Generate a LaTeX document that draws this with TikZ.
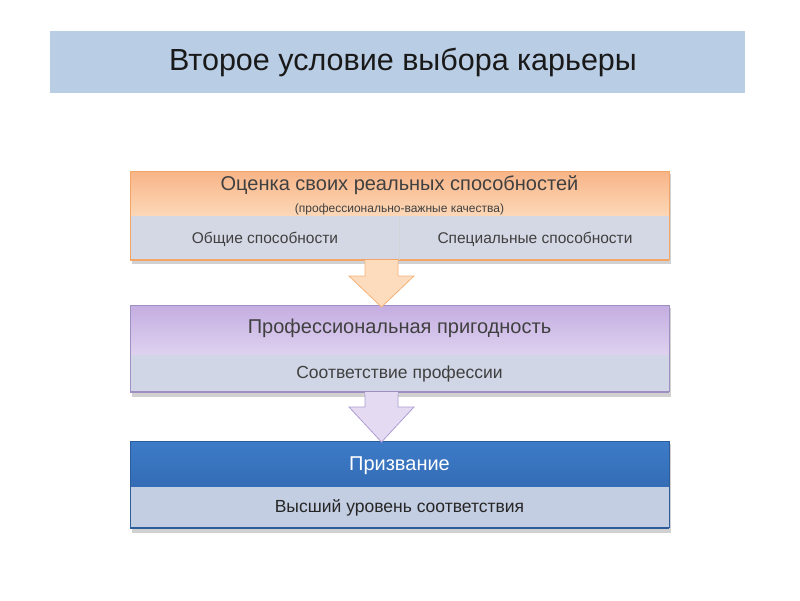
\documentclass[tikz,border=0pt]{standalone}
\usepackage{fontspec}
\setmainfont{Liberation Sans}
\usetikzlibrary{calc,shadows}
\definecolor{titlebg}{HTML}{B9CDE5}
\definecolor{orgtop}{HTML}{F8B487}
\definecolor{orgbot}{HTML}{FCD8B8}
\definecolor{orgline}{HTML}{F2A566}
\definecolor{grayA}{HTML}{D4D8E4}
\definecolor{arrA}{HTML}{FDDCBE}
\definecolor{arrAline}{HTML}{F4B27A}
\definecolor{purtop}{HTML}{C4ADE1}
\definecolor{purbot}{HTML}{DED2EF}
\definecolor{purline}{HTML}{9F8FC2}
\definecolor{grayB}{HTML}{D0D6E5}
\definecolor{arrB}{HTML}{E4DBF3}
\definecolor{arrBline}{HTML}{AE9DD3}
\definecolor{blutop}{HTML}{3D7BC8}
\definecolor{blubot}{HTML}{346CB5}
\definecolor{bluline}{HTML}{2C5C9A}
\definecolor{grayC}{HTML}{C3CEE2}
\definecolor{txtgray}{HTML}{404040}
\tikzset{
  band/.style={minimum width=539pt, inner sep=0pt, outer sep=0pt},
  headtxt/.style={font=\fontsize{20}{22}\selectfont, text=txtgray},
  subtxt/.style={font=\fontsize{15.5}{17}\selectfont, text=txtgray},
  subtxtb/.style={font=\fontsize{17.5}{19}\selectfont, text=txtgray},
  arrowshape/.style={line width=0.8pt, line join=miter},
}
\begin{document}
\begin{tikzpicture}[x=1pt,y=-1pt]
\useasboundingbox (0,0) rectangle (800,600);
% title
\fill[titlebg] (50,31) rectangle (745,93);
\node[font=\fontsize{30.5}{32}\selectfont, text=black!90] (title) at (403,62) {Второе условие выбора карьеры};

% box 1
\fill[black!18] (132,174) rectangle (671,264);
\node[band, minimum height=45pt, top color=orgtop, bottom color=orgbot, draw=orgline, line width=0.6pt] (b1top) at (399.5,193.5) {};
\node[band, minimum height=44pt, fill=grayA] (b1bot) at (399.5,238) {};
\draw[orgline, line width=0.6pt] (b1top.south west) -- (b1bot.south west);
\draw[orgline, line width=0.6pt] (b1top.south east) -- (b1bot.south east);
\draw[orgline, line width=2.5pt] (b1bot.south west) -- (b1bot.south east);
\draw[grayA!85!black!60!white, line width=0.4pt] (b1bot.north) -- (b1bot.south);
\node[headtxt] (t1) at (399.5,185) {Оценка своих реальных способностей};
\node[font=\fontsize{12}{14}\selectfont, text=txtgray] (t1s) at (399.5,209.5) {(профессионально-важные качества)};
\node[subtxt] (t1a) at (265,239) {Общие способности};
\node[subtxt] (t1b) at (535,239) {Специальные способности};

% box 2
\fill[black!18] (132,308) rectangle (671,397);
\node[band, minimum height=50pt, top color=purtop, bottom color=purbot, draw=purline, line width=0.6pt] (b2top) at (399.5,330) {};
\node[band, minimum height=37pt, fill=grayB] (b2bot) at (399.5,373.5) {};
\draw[purline, line width=0.6pt] (b2top.south west) -- (b2bot.south west);
\draw[purline, line width=0.6pt] (b2top.south east) -- (b2bot.south east);
\draw[purline, line width=2pt] (b2bot.south west) -- (b2bot.south east);
\node[headtxt] (t2) at (399.5,328) {Профессиональная пригодность};
\node[subtxtb] (t2a) at (399.5,374) {Соответствие профессии};

% box 3
\fill[black!18] (132,444) rectangle (671,533);
\node[band, minimum height=46pt, top color=blutop, bottom color=blubot, draw=bluline, line width=0.6pt] (b3top) at (399.5,464) {};
\node[band, minimum height=41pt, fill=grayC] (b3bot) at (399.5,507.5) {};
\draw[bluline, line width=0.6pt] (b3top.south west) -- (b3bot.south west);
\draw[bluline, line width=0.6pt] (b3top.south east) -- (b3bot.south east);
\draw[bluline, line width=2pt] (b3bot.south west) -- (b3bot.south east);
\node[headtxt, text=white] (t3) at (399.5,466) {Призвание};
\node[subtxtb, text=black!85] (t3a) at (399.5,508) {Высший уровень соответствия};

% arrow 1
\coordinate (a1s) at ($(b1bot.south)+(-18,1)$);
\coordinate (a1t) at ($(b2top.north)+(-18,2)$);
\draw[arrowshape, fill=arrA, draw=arrAline]
  ($(a1s)+(-16.5,0)$) -- ($(a1s)+(-16.5,15)$) -- ($(a1s)+(-32.5,15)$) -- (a1t)
  -- ($(a1s)+(32.5,15)$) -- ($(a1s)+(16.5,15)$) -- ($(a1s)+(16.5,0)$);
\fill[arrA] ($(a1s)+(-16.1,-1)$) rectangle ($(a1s)+(16.1,1)$);

% arrow 2
\coordinate (a2s) at ($(b2bot.south)+(-18,1)$);
\coordinate (a2t) at ($(b3top.north)+(-18,1)$);
\draw[arrowshape, fill=arrB, draw=arrBline]
  ($(a2s)+(-16.5,0)$) -- ($(a2s)+(-16.5,14)$) -- ($(a2s)+(-32.5,14)$) -- (a2t)
  -- ($(a2s)+(32.5,14)$) -- ($(a2s)+(16.5,14)$) -- ($(a2s)+(16.5,0)$);
\fill[arrB] ($(a2s)+(-16.1,-1)$) rectangle ($(a2s)+(16.1,1)$);
\end{tikzpicture}
\end{document}
